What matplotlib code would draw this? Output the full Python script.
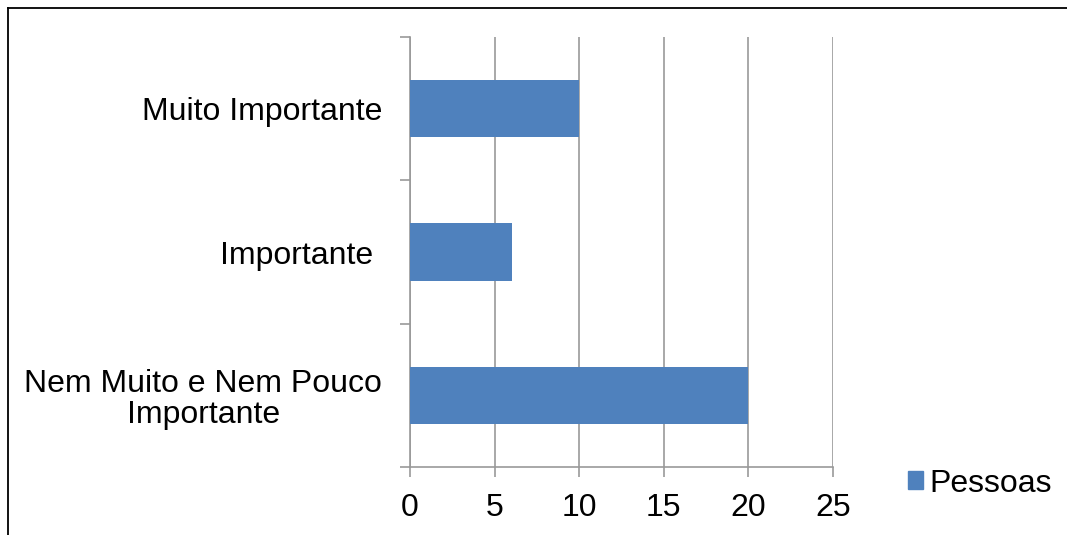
import matplotlib.pyplot as plt
from matplotlib.lines import Line2D
from matplotlib.patches import Patch

# categories from bottom to top
categorias = ["Nem Muito e Nem Pouco\nImportante", "Importante ", "Muito Importante"]
pessoas = [20, 6, 10]
xticks = [0, 5, 10, 15, 20, 25]

plt.rcParams['font.family'] = ['Liberation Sans', 'DejaVu Sans']

azul = '#4F81BD'
cinza = '#999999'

fig = plt.figure(figsize=(10.67, 5.35), dpi=100)
ax = fig.add_axes([0.3843, 0.1271, 0.3964, 0.8037])

pos = range(len(categorias))
ax.barh(pos, pessoas, height=0.4, color=azul, zorder=3)

ax.set_xlim(0, 25)
ax.set_ylim(-0.5, 2.5)
ax.set_xticks(xticks)
ax.set_xticklabels([str(t) for t in xticks])
ax.set_yticks([-0.5, 0.5, 1.5, 2.5])
ax.set_yticklabels([])
ax.set_yticks(list(pos), minor=True)
ax.set_yticklabels(categorias, minor=True, multialignment='center', linespacing=1.05)

ax.tick_params(axis='x', length=7, width=1.2, color=cinza, labelsize=23, pad=12)
ax.tick_params(axis='y', which='major', length=7, width=1.2, color=cinza)
ax.tick_params(axis='y', which='minor', length=0, labelsize=23, pad=20)

ax.grid(axis='x', color=cinza, linewidth=1.2, zorder=0)
for s in ['top', 'right']:
    ax.spines[s].set_visible(False)
for s in ['left', 'bottom']:
    ax.spines[s].set_color(cinza)
    ax.spines[s].set_linewidth(1.2)

fig.legend(handles=[Patch(color=azul, label='Pessoas')], loc='center left',
           bbox_to_anchor=(0.851, 0.096), frameon=False, fontsize=23,
           handlelength=0.48, handleheight=0.48, handletextpad=0.2,
           borderaxespad=0, borderpad=0)

# outer frame
fig.add_artist(Line2D([0.0075, 0.0075], [0, 0.985], color='black', linewidth=1.3))
fig.add_artist(Line2D([0.0075, 1.0], [0.985, 0.985], color='black', linewidth=1.3))

fig.savefig('out.png', dpi=100)
